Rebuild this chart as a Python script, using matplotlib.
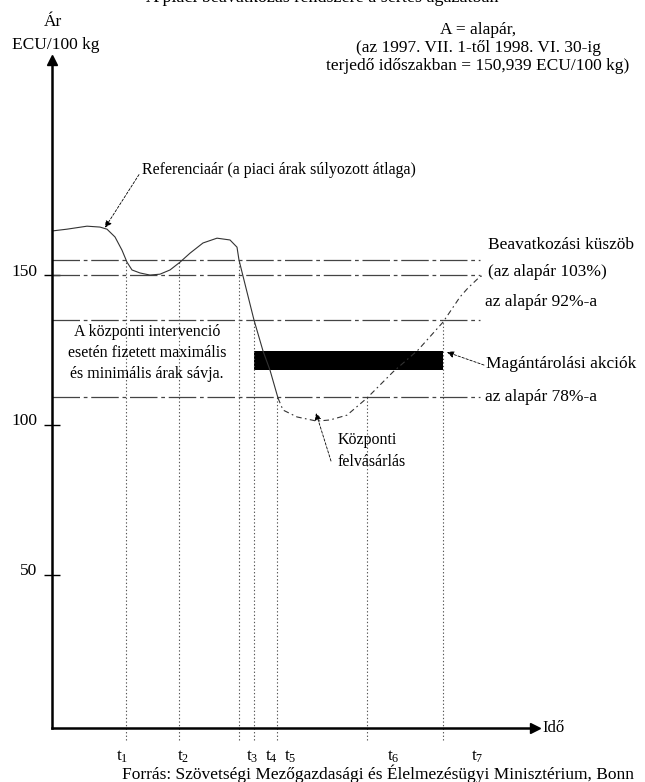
import matplotlib
matplotlib.use("Agg")
from matplotlib import pyplot as plt
from matplotlib.transforms import ScaledTranslation

plt.rcParams['font.family'] = ['Liberation Serif', 'DejaVu Serif']
plt.rcParams['mathtext.fontset'] = 'custom'
plt.rcParams['mathtext.rm'] = 'Liberation Serif'

# referenciaár (idő, ECU/100 kg)
price_t = [0, 15, 35, 48, 55, 63, 70, 75, 80, 88, 98, 108, 118, 128, 138, 151, 165, 178, 185, 187,
           202, 211, 218, 226]
price_v = [164.7, 165.3, 166.3, 166.0, 165.3, 162.7, 158.3, 154.3, 151.7, 150.7, 150.0, 150.3, 151.7,
           154.3, 157.3, 160.7, 162.3, 161.7, 159.3, 155.0, 135.0, 124.7, 118.3, 109.0]
rise_t = [226, 231, 245, 265, 278, 295, 315, 341, 366, 391, 408, 416, 428, 433]
rise_v = [109.0, 105.0, 102.7, 101.3, 101.7, 103.3, 109.0, 117.7, 125.0, 134.3, 142.7, 145.7, 149.5, 150.0]

# szintek: küszöb, alapár, 92%, 78%
levels = [155.0, 150.0, 135.0, 109.3]
level_end = 428

# időpontok t1..t7
times = [74, 127, 187, 202, 225, 315, 391]
time_tops = [155.0, 155.0, 155.0, 135.0, 109.3, 109.3, 135.0]
time_labels = ['1', ' 2', '3', ' 4', ' 5', ' 6', '7']
label_x = [70, 131, 200, 219, 238, 341, 425]

# magántárolás sáv
bar_start, bar_end = 202, 391
bar_low, bar_high = 118.3, 124.7

fig = plt.figure(figsize=(6.45, 7.82), dpi=100)
ax = fig.add_axes([52 / 645, 54 / 782, 483 / 645, 668 / 782])
ax.set_xlim(0, 483)
ax.set_ylim(-1, 221.7)

for s in ['top', 'right']:
    ax.spines[s].set_visible(False)
ax.spines['left'].set_linewidth(1.8)
ax.spines['bottom'].set_linewidth(1.8)
ax.plot(1, 0, '>k', ms=7, transform=ax.transAxes, clip_on=False)
ax.plot(0, 1, '^k', ms=7, transform=ax.transAxes, clip_on=False)

ax.set_xticks([])
ax.set_yticks([50, 100, 150])
ax.tick_params(axis='y', direction='inout', length=11, width=1, pad=5, labelsize=12.5)
for lab in ax.get_yticklabels():
    lab.set_transform(lab.get_transform() + ScaledTranslation(0, 4 / 72, fig.dpi_scale_trans))

# vízszintes szintvonalak
for lv in levels:
    ax.plot([0, level_end], [lv, lv], color='#444444', lw=0.9, dashes=(22, 3, 3, 3))

# függőleges pontozott vonalak
ax.vlines(times, -5, time_tops, colors='#555555', lw=0.8, linestyles=(0, (1.2, 2)), clip_on=False)

# sáv
ax.barh((bar_low + bar_high) / 2, bar_end - bar_start, left=bar_start, height=bar_high - bar_low,
        color='black')

# referenciaár görbe
ax.plot(price_t, price_v, color='#333333', lw=0.8)
ax.plot(rise_t, rise_v, color='#333333', lw=0.8, dashes=(5, 3, 1.5, 3))

# t címkék
for x, lab in zip(label_x, time_labels):
    ax.text(x, -10.5, r'$\mathregular{t_{%s}}$' % lab, ha='center', va='center', fontsize=12.5)

txt = dict(fontsize=11, va='center')
big = dict(fontsize=12.5, va='center')

ax.text(436, 160.0, 'Beavatkozási küszöb', **big)
ax.text(436, 151.0, '(az alapár 103%)', **big)
ax.text(433, 141.0, 'az alapár 92%-a', **big)
ax.text(434, 120.3, 'Magántárolási akciók', **big)
ax.text(433, 109.3, 'az alapár 78%-a', **big)

ax.text(90, 185.0, 'Referenciaár (a piaci árak súlyozott átlaga)', fontsize=11.5, va='center')
ax.text(95, 124.0, 'A központi intervenció\nesetén fizetett maximális\nés minimális árak sávja.',
        ha='center', va='center', fontsize=11.5, linespacing=1.45)
ax.text(286, 91.3, 'Központi\nfelvásárlás', ha='left', va='center', fontsize=11.5, linespacing=1.55)

arrow = dict(arrowstyle='-|>', color='black', lw=0.6, linestyle=(0, (3, 2)),
             mutation_scale=10, shrinkA=0, shrinkB=0)
ax.annotate('', xy=(53, 165.8), xytext=(87, 183.5), arrowprops=arrow)
ax.annotate('', xy=(395, 124.3), xytext=(432, 120.0), arrowprops=arrow)
ax.annotate('', xy=(264, 104.0), xytext=(279, 88.0), arrowprops=arrow)

ax.text(490, -1, 'Idő', fontsize=12, va='center', ha='left')
ax.text(1, 234.3, 'Ár', fontsize=12.5, ha='center', va='center')
ax.text(4, 226.7, 'ECU/100 kg', fontsize=12.5, ha='center', va='center')
ax.text(426, 225.7, 'A = alapár,\n(az 1997. VII. 1-től 1998. VI. 30-ig\nterjedő időszakban = 150,939 ECU/100 kg)',
        ha='center', va='center', fontsize=12.5, linespacing=1.2)

fig.text(0.5, 1 - 2.5 / 782, 'A piaci beavatkozás rendszere a sertés ágazatban', ha='center',
         va='baseline', fontsize=13)
fig.text(122 / 645, 3 / 782, 'Forrás: Szövetségi Mezőgazdasági és Élelmezésügyi Minisztérium, Bonn',
         ha='left', va='baseline', fontsize=12.5)

fig.savefig('out.png', dpi=100)
